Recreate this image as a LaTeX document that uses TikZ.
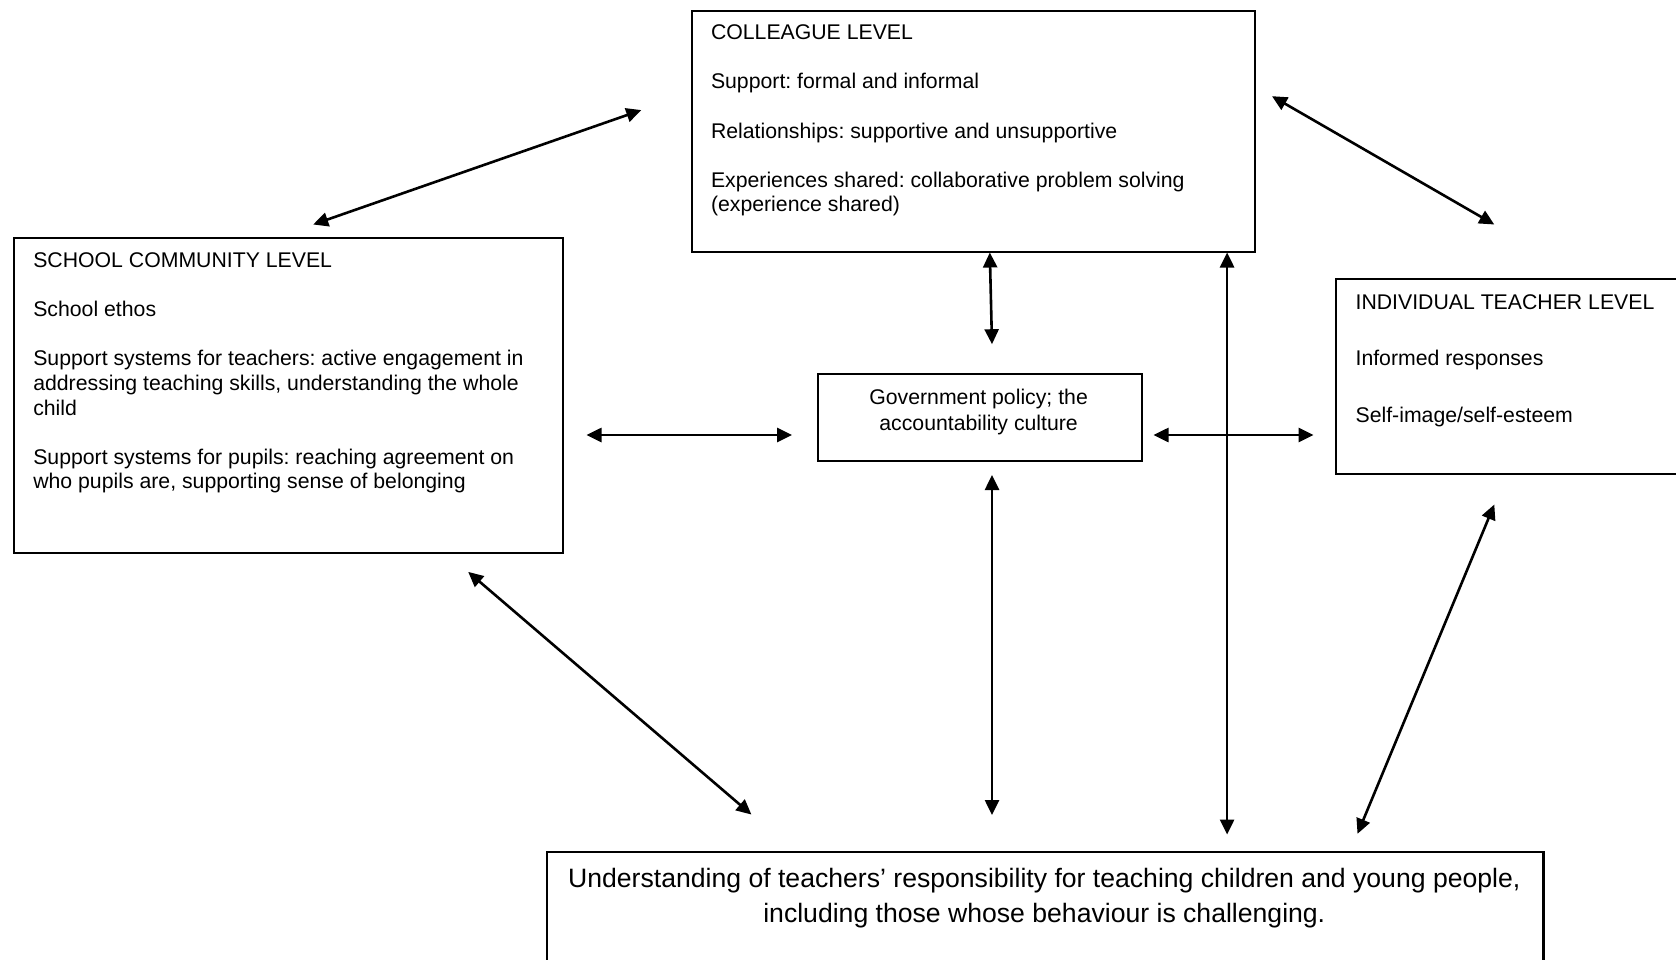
\documentclass[tikz,border=0pt]{standalone}
\usepackage{fontspec}
\setmainfont{Liberation Sans}
\usetikzlibrary{arrows.meta}
\tikzset{
 box/.style={draw, line width=2.2pt, inner sep=0pt, rectangle, anchor=north west},
 txt/.style={font=\fontsize{21.25}{24.6}\selectfont\frenchspacing, align=left, inner sep=0pt, anchor=north west},
 ctxt/.style={font=\fontsize{21.25}{26.7}\selectfont\frenchspacing, align=center, inner sep=0pt, anchor=north},
 btxt/.style={font=\fontsize{26.6}{35.3}\selectfont\frenchspacing, align=center, inner sep=0pt, anchor=north},
 link/.style={line width=2.6pt, {Triangle[length=15pt,width=14pt]}-{Triangle[length=15pt,width=14pt]}},
}
\newcommand{\fstrut}{\rule{0pt}{18pt}}
\newcommand{\bstrut}{\rule{0pt}{24pt}}
\begin{document}
\begin{tikzpicture}[x=1pt,y=-1pt]
\useasboundingbox (0,0) rectangle (1676,960);
\clip (0,0) rectangle (1676,960);
\fill[white] (0,0) rectangle (1676,960);
% boxes
\node[box, minimum width=563.3pt, minimum height=241.6pt] (col) at (690.5,9.6) {};
\node[box, minimum width=549.4pt, minimum height=314.3pt] (sch) at (12.8,237.3) {};
\node[box, minimum width=323.9pt, minimum height=86.6pt] (gov) at (816.6,373) {};
\node[box, minimum width=380pt, minimum height=194.5pt] (ind) at (1335,278) {};
\node[box, minimum width=996.2pt, minimum height=150pt] (und) at (546.2,850.8) {};
% texts
\node[txt] (colt) at (710.8,21.5) {\fstrut COLLEAGUE LEVEL\\[24.6pt]
Support: formal and informal\\[24.6pt]
Relationships: supportive and unsupportive\\[24.6pt]
Experiences shared: collaborative problem solving\\
(experience shared)};
\node[txt] (scht) at (33.1,249.2) {\fstrut SCHOOL COMMUNITY LEVEL\\[24.6pt]
School ethos\\[24.6pt]
Support systems for teachers: active engagement in\\
addressing teaching skills, understanding the whole\\
child\\[24.6pt]
Support systems for pupils: reaching agreement on\\
who pupils are, supporting sense of belonging};
\node[txt] (indt) at (1355.4,290.9) {\fstrut INDIVIDUAL TEACHER LEVEL\\[32.1pt]
Informed responses\\[32.1pt]
Self-image/self-esteem};
\node[ctxt] (govt) at (978.6,386) {\fstrut Government policy; the\\ accountability culture};
\node[btxt] (undt) at (1044.3,863.3) {\bstrut Understanding of teachers’ responsibility for teaching children and young people,\\ including those whose behaviour is challenging.};
% arrow end points
\coordinate (a1s) at (313.2,224.5); \coordinate (a1e) at (641.3,110.1);
\coordinate (a2s) at (1272,96.2);   \coordinate (a2e) at (1494.3,224.5);
\coordinate (a3s) at (989.8,252.5); \coordinate (a3e) at (992,344.2);
\coordinate (a4s) at (586.5,435);   \coordinate (a4e) at (792,435);
\coordinate (a5s) at (1153.5,435);  \coordinate (a5e) at (1313.5,435);
\coordinate (a6s) at (1227.1,252.5);\coordinate (a6e) at (1227.1,834.5);
\coordinate (a7s) at (992,475);     \coordinate (a7e) at (992,815);
\coordinate (a8s) at (468.2,571.9); \coordinate (a8e) at (751.4,814.5);
\coordinate (a9s) at (1494.3,504.5);\coordinate (a9e) at (1357.5,833.8);
\draw[link] (a1s) -- (a1e);
\draw[link] (a2s) -- (a2e);
\draw[link] (a3s) -- (a3e);
\draw[link] (a4s) -- (a4e);
\draw[link] (a5s) -- (a5e);
\draw[link] (a6s) -- (a6e);
\draw[link] (a7s) -- (a7e);
\draw[link] (a8s) -- (a8e);
\draw[link] (a9s) -- (a9e);
\end{tikzpicture}
\end{document}
